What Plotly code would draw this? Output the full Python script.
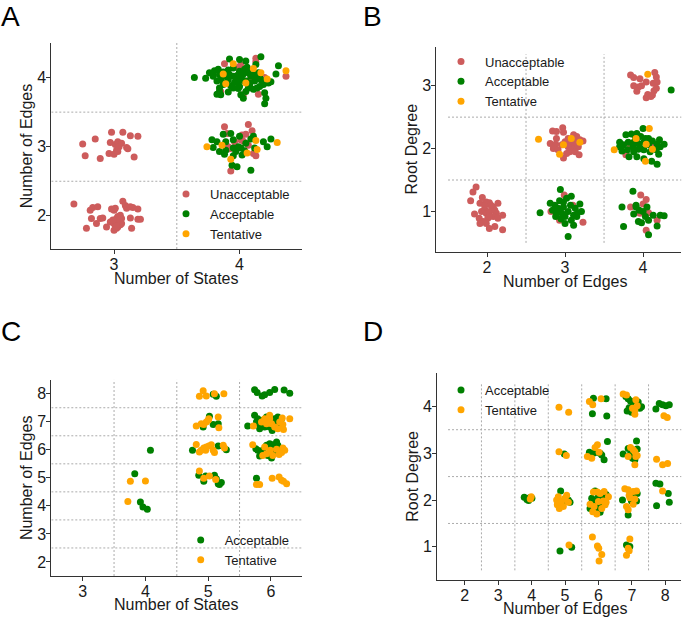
import plotly.graph_objects as go

# ---- data: jittered points, (x, y) per class and panel -------------------------

A_UNACC = [
    (2.68, 2.17), (2.81, 2.08), (2.83, 2.12), (2.87, 2.13), (2.82, 1.96), (2.86, 1.89), (2.78, 1.82),
    (2.89, 1.96), (2.91, 1.97), (2.94, 1.84), (2.98, 2.10), (3.00, 2.08), (3.01, 2.11), (2.97, 1.91),
    (3.00, 1.89), (3.01, 1.86), (3.02, 1.96), (3.03, 1.99), (3.05, 2.01), (3.06, 1.96), (3.02, 1.82),
    (3.00, 1.79), (3.03, 1.84), (3.07, 2.21), (3.09, 2.15), (3.10, 2.11), (3.13, 2.13), (3.15, 2.12),
    (3.19, 2.10), (3.13, 1.97), (3.19, 1.95), (3.21, 1.95), (3.14, 1.82), (3.06, 1.89), (3.05, 1.92),
    (3.03, 1.93), (3.01, 1.90), (3.04, 1.95), (2.99, 1.94), (3.05, 1.87), (3.02, 1.85),
    (2.75, 3.04), (2.77, 2.87), (2.85, 3.11), (2.89, 2.83), (2.98, 3.21), (2.97, 3.06), (2.96, 2.90),
    (3.01, 3.03), (3.02, 2.95), (3.03, 3.07), (3.04, 3.00), (3.07, 3.21), (3.06, 3.05), (3.10, 2.99),
    (3.11, 2.97), (3.13, 3.16), (3.19, 3.15), (3.16, 2.85), (3.00, 2.89), (3.03, 2.93),
    (3.88, 3.29), (4.07, 3.32), (4.10, 3.23), (3.90, 3.19), (4.02, 3.17), (4.05, 3.18), (4.01, 3.10),
    (4.03, 3.08), (3.96, 3.07), (3.91, 3.00), (3.92, 2.97), (4.11, 2.90), (4.13, 2.87), (4.07, 3.02),
    (3.93, 2.65),
    (3.88, 4.20), (4.01, 4.18), (4.13, 4.28), (4.13, 4.23), (4.09, 4.00), (4.08, 3.87), (4.15, 3.76),
    (3.85, 3.80), (4.03, 3.75), (4.37, 4.02), (4.20, 4.00), (4.00, 4.12), (3.99, 4.15),
]
A_ACC = [
    (3.78, 3.10), (3.82, 3.07), (3.87, 3.18), (3.93, 3.19), (3.89, 3.07), (3.95, 3.10), (4.00, 3.15),
    (3.99, 3.00), (3.97, 2.93), (3.95, 2.98), (3.84, 2.93), (3.88, 2.89), (3.95, 2.87), (4.01, 2.98),
    (4.04, 2.94), (4.05, 3.05), (4.09, 3.11), (4.11, 3.15), (4.19, 3.07), (4.22, 3.00), (4.25, 3.11),
    (3.79, 2.99), (3.94, 2.73), (3.98, 2.71), (4.09, 2.66), (3.89, 2.95), (4.02, 2.88), (4.12, 2.98),
    (3.64, 4.00), (3.73, 3.99), (3.76, 4.07), (3.80, 4.10), (3.83, 4.12), (3.84, 4.04), (3.87, 4.08),
    (3.92, 4.27), (4.00, 4.26), (4.05, 4.24), (4.17, 4.30), (4.07, 4.07), (4.01, 4.02), (3.97, 4.00),
    (3.95, 4.02), (3.91, 3.97), (3.89, 3.92), (3.85, 3.97), (3.82, 3.95), (3.84, 3.85), (3.82, 3.76),
    (3.85, 3.75), (3.91, 3.79), (3.95, 3.85), (4.00, 3.87), (4.01, 3.75), (4.05, 3.80), (4.08, 3.90),
    (4.12, 3.95), (4.16, 4.00), (4.15, 4.07), (4.19, 3.90), (4.23, 3.92), (4.25, 3.94), (4.29, 4.05),
    (4.31, 4.17), (4.20, 3.78), (4.21, 3.70), (4.20, 3.62), (4.16, 3.87), (4.11, 3.83), (4.04, 3.95),
    (3.99, 3.92), (3.92, 4.04), (3.88, 4.02), (4.04, 4.12), (4.09, 4.02), (4.13, 4.19), (3.79, 4.02),
    (3.95, 4.14), (4.00, 4.09), (4.07, 3.85), (4.03, 3.70), (4.13, 4.00), (4.17, 3.97), (4.00, 4.00),
    (4.02, 3.97), (3.98, 4.03), (4.05, 3.95), (3.96, 3.93), (4.03, 4.05), (3.93, 3.88), (4.08, 3.92),
    (3.99, 3.84), (4.11, 4.04), (3.87, 3.90), (4.06, 4.15), (3.91, 4.11), (4.14, 3.85), (3.84, 3.80),
]
A_TENT = [
    (3.74, 3.00), (3.86, 3.02), (4.13, 3.09), (4.14, 2.96), (4.06, 2.91), (3.93, 2.82), (4.30, 3.06),
    (3.95, 4.20), (4.11, 4.13), (3.87, 4.05), (4.22, 3.98), (4.37, 4.10), (3.89, 3.91), (4.05, 3.92),
    (4.17, 4.07),
]

B_UNACC = [
    (1.86, 1.39), (1.82, 1.31), (1.79, 1.17), (1.94, 1.22), (1.91, 1.13), (1.99, 1.15), (2.03, 1.14),
    (2.08, 1.07), (2.14, 1.13), (1.84, 0.96), (1.90, 0.89), (1.93, 1.00), (1.97, 1.03), (1.99, 0.97),
    (2.03, 1.00), (2.10, 1.02), (2.12, 0.97), (2.08, 0.92), (2.01, 0.89), (1.95, 0.84), (1.91, 0.81),
    (1.99, 0.81), (2.03, 0.73), (2.10, 0.76), (2.20, 0.71), (2.20, 0.94), (2.14, 0.89), (2.05, 1.10),
    (1.97, 1.09), (2.03, 0.92),
    (2.99, 1.26), (3.10, 1.10), (2.82, 1.00), (2.93, 0.86), (3.23, 0.83),
    (3.97, 1.26), (4.04, 1.19), (3.84, 1.07), (4.00, 1.12), (4.07, 0.98), (4.18, 0.86), (4.04, 0.70),
    (3.96, 0.97),
    (2.84, 2.28), (2.89, 2.27), (2.97, 2.33), (2.98, 2.26), (2.81, 2.08), (2.88, 2.07), (2.85, 2.00),
    (2.91, 1.98), (2.96, 2.06), (3.00, 2.11), (3.04, 2.16), (3.08, 2.08), (3.11, 2.01), (3.06, 1.95),
    (3.02, 1.92), (3.15, 2.19), (3.19, 2.14), (3.17, 2.03), (3.13, 1.95), (3.14, 2.10), (3.23, 2.12),
    (3.18, 1.90), (2.98, 1.85), (3.04, 2.03), (2.89, 2.16), (3.11, 2.22),
    (4.10, 2.06), (3.78, 1.90), (4.15, 2.03), (3.83, 2.06),
    (3.84, 3.17), (3.88, 3.13), (3.96, 3.11), (4.04, 3.06), (3.98, 3.00), (4.15, 3.21), (4.17, 3.14),
    (4.13, 3.04), (4.18, 3.06), (3.94, 2.98), (3.88, 3.00), (4.17, 2.96), (4.14, 2.92), (4.06, 2.86),
    (4.04, 2.81), (4.10, 2.83), (4.12, 2.85), (3.92, 2.91),
]
B_ACC = [
    (2.94, 1.35), (2.68, 0.98), (2.81, 1.13), (2.87, 1.10), (2.84, 1.02), (2.89, 0.97), (2.93, 1.17),
    (2.98, 1.15), (3.02, 1.21), (3.08, 1.24), (3.07, 1.10), (3.13, 1.05), (3.19, 1.12), (3.21, 1.00),
    (3.15, 0.92), (3.08, 0.86), (3.00, 0.92), (2.95, 0.88), (3.04, 1.00), (2.98, 1.07), (2.91, 1.05),
    (3.11, 0.78), (3.04, 0.60), (2.88, 0.92), (3.16, 0.98), (2.96, 0.97), (3.00, 0.81), (3.11, 0.94),
    (3.87, 1.32), (3.73, 1.07), (3.91, 1.10), (3.95, 1.02), (3.88, 0.96), (4.00, 1.00), (4.05, 1.07),
    (4.13, 0.94), (4.22, 0.94), (4.27, 0.93), (3.94, 0.84), (3.98, 0.82), (4.07, 0.86), (4.03, 0.92),
    (3.75, 0.76), (4.07, 0.63), (4.18, 0.77), (3.91, 1.07),
    (4.00, 2.32), (3.78, 2.22), (3.85, 2.23), (3.92, 2.24), (3.97, 2.19), (4.03, 2.16), (3.70, 2.10),
    (3.75, 2.06), (3.81, 2.10), (3.88, 2.10), (3.94, 2.08), (4.01, 2.10), (4.07, 2.16), (4.12, 2.12),
    (4.18, 2.07), (4.22, 2.03), (4.27, 2.07), (3.73, 1.96), (3.80, 1.98), (3.88, 1.95), (3.94, 1.99),
    (4.01, 1.98), (4.09, 1.95), (4.17, 1.98), (4.20, 1.91), (3.82, 1.87), (3.92, 1.87), (4.01, 1.84),
    (4.11, 1.80), (4.18, 1.75), (3.90, 2.19), (3.96, 2.01), (3.87, 2.03), (4.07, 2.06), (4.21, 2.14),
    (3.70, 2.03),
    (4.36, 2.93),
]
B_TENT = [
    (2.66, 2.15), (2.98, 2.06), (3.08, 2.16), (3.19, 2.10), (2.93, 1.91),
    (3.63, 1.98), (4.08, 2.32), (3.91, 2.16), (4.04, 2.07), (4.03, 1.80), (4.12, 1.99),
    (4.06, 3.18),
]

C_ACC = [
    (3.83, 5.15), (3.92, 4.14), (3.96, 3.96), (4.03, 3.88), (4.08, 5.98),
    (5.08, 7.98), (5.13, 7.91),
    (5.74, 8.14), (5.78, 8.04), (5.86, 7.92), (5.90, 7.96), (5.98, 8.04), (6.06, 8.15), (6.21, 8.13),
    (6.30, 8.02),
    (5.02, 7.20), (5.08, 6.90), (5.16, 6.93), (4.92, 6.81),
    (5.63, 6.85), (5.74, 7.23), (5.79, 7.11), (5.81, 6.93), (5.87, 7.05), (5.93, 7.17), (5.95, 6.93),
    (5.98, 6.81), (6.03, 6.99), (6.06, 7.11), (6.11, 7.17), (6.17, 7.11), (5.82, 6.75), (5.90, 6.81),
    (6.02, 6.69), (6.09, 6.87), (5.77, 6.99),
    (4.75, 5.98), (5.16, 6.14), (5.29, 6.00),
    (5.76, 6.04), (5.79, 5.98), (5.87, 5.98), (5.93, 6.16), (5.98, 6.22), (6.03, 6.18), (6.09, 6.28),
    (6.11, 6.16), (5.82, 5.78), (5.95, 5.80), (6.01, 5.71), (5.85, 5.90), (6.06, 5.92), (6.14, 6.04),
    (4.85, 5.09), (4.93, 4.88), (4.96, 5.07), (5.10, 5.09), (5.13, 4.97), (5.16, 4.79), (5.18, 4.76),
    (5.21, 4.83),
    (5.77, 4.99),
]
C_TENT = [
    (3.76, 4.88), (4.00, 4.89), (3.72, 4.16),
    (4.86, 7.91), (4.92, 8.11), (4.97, 7.92), (5.10, 8.00), (5.25, 8.00),
    (4.81, 6.85), (4.89, 6.93), (4.93, 6.90), (4.97, 6.99), (5.00, 7.05), (5.16, 7.17), (5.01, 7.11),
    (5.17, 6.79),
    (5.72, 6.85), (5.85, 6.99), (5.90, 7.11), (5.98, 7.11), (6.01, 6.93), (6.06, 6.81), (6.14, 6.99),
    (6.18, 7.13), (6.19, 6.90), (6.20, 6.72), (6.30, 7.11), (5.93, 6.93), (6.11, 6.75), (5.98, 7.23),
    (4.81, 6.19), (4.86, 5.92), (4.89, 5.98), (4.93, 6.06), (4.97, 6.10), (5.01, 6.14), (5.05, 6.18),
    (5.08, 5.98), (5.10, 5.90), (4.96, 5.98), (5.24, 6.16), (5.26, 6.06),
    (5.71, 6.18), (5.90, 6.10), (5.93, 5.86), (5.99, 5.98), (6.03, 5.80), (6.09, 6.02), (6.13, 5.83),
    (6.19, 6.06), (6.22, 5.98), (5.87, 5.80), (6.17, 5.90),
    (4.86, 5.24), (4.93, 4.99), (5.02, 5.07), (5.12, 4.94),
    (5.77, 4.76), (5.82, 4.76), (6.02, 4.99), (6.13, 5.03), (6.17, 4.91), (6.20, 4.88), (6.25, 4.79),
]

D_ACC = [
    (3.78, 2.06), (3.86, 2.01), (3.94, 2.05), (4.01, 2.04), (3.91, 1.99),
    (4.98, 2.98),
    (4.87, 2.19), (5.03, 1.98), (5.10, 2.00), (5.15, 1.95), (4.93, 1.91),
    (5.90, 2.19), (5.80, 2.04), (5.77, 1.90), (5.87, 1.98), (6.00, 2.07), (6.05, 1.91), (6.10, 1.86),
    (5.97, 1.79), (6.05, 1.74), (5.90, 1.82), (6.15, 2.11), (6.23, 2.12), (5.75, 1.82),
    (6.72, 2.00), (6.89, 1.68), (6.99, 1.98), (7.16, 2.14), (7.14, 1.98), (7.06, 2.07),
    (7.72, 2.36), (7.84, 2.34), (8.09, 2.14), (7.74, 1.88), (8.12, 1.95),
    (4.85, 0.91), (5.20, 0.99),
    (6.84, 1.04), (6.94, 1.01),
    (5.85, 4.17), (6.23, 4.16), (5.82, 3.84), (6.25, 3.79),
    (6.82, 4.21), (6.89, 4.16), (6.96, 4.11), (7.04, 4.01), (6.92, 3.97), (6.86, 3.90), (6.99, 3.87),
    (7.19, 4.09), (7.29, 3.99), (7.24, 3.96),
    (7.72, 3.94), (7.82, 4.06), (7.92, 4.03), (8.02, 4.01), (8.12, 4.03),
    (5.73, 3.02), (5.85, 3.00), (5.95, 3.02), (6.05, 3.00), (6.10, 2.96), (6.17, 2.86), (6.27, 3.25),
    (6.74, 2.98), (6.89, 3.10), (6.94, 2.96), (7.02, 2.89), (7.09, 2.86), (7.14, 3.26), (7.16, 3.09),
    (6.99, 3.02),
]
D_TENT = [
    (3.99, 2.07), (3.96, 2.02),
    (4.82, 3.98), (5.11, 3.87),
    (4.82, 3.03), (5.04, 2.95),
    (4.75, 2.00), (4.80, 2.07), (4.85, 1.93), (4.77, 1.90), (4.90, 1.98), (5.00, 2.04), (5.05, 2.10),
    (4.95, 1.86), (4.83, 1.82), (5.10, 1.95),
    (5.85, 2.17), (5.97, 2.17), (6.17, 2.18), (6.30, 2.07), (5.75, 1.91), (5.87, 1.86), (6.00, 1.97),
    (6.15, 1.98), (6.20, 1.90), (5.83, 1.75), (5.95, 1.70), (6.10, 1.82), (6.23, 1.95), (6.05, 2.14),
    (6.79, 2.24), (6.89, 2.22), (6.94, 2.05), (7.04, 2.18), (7.14, 2.19), (6.84, 1.86), (6.89, 1.79),
    (7.04, 1.91), (6.92, 2.10), (7.09, 2.02),
    (7.92, 2.19),
    (5.12, 1.04),
    (5.82, 1.21), (5.97, 1.02), (6.01, 0.97), (6.10, 0.84), (6.02, 0.70),
    (6.94, 1.17), (6.89, 0.97), (6.92, 0.92), (6.84, 0.82),
    (5.73, 4.10), (5.83, 4.03), (6.08, 4.16),
    (6.74, 4.26), (6.84, 4.24), (7.12, 4.14), (7.16, 4.01), (7.09, 3.92), (7.02, 3.96), (7.09, 3.83),
    (7.96, 3.80), (8.06, 3.76),
    (5.67, 2.93), (5.80, 2.89), (5.90, 3.12), (5.97, 3.18), (6.02, 3.02),
    (6.96, 3.12), (7.04, 3.07), (7.09, 3.03), (7.12, 2.93), (7.16, 2.95), (7.09, 2.75), (6.89, 2.93),
    (7.74, 2.87), (7.92, 2.75), (8.07, 2.78),
]

# separator lines between integer cells
A_VLINES, A_HLINES = [3.5], [2.5, 3.5]
B_VLINES, B_HLINES = [2.5, 3.5], [1.5, 2.5]
C_VLINES, C_HLINES = [3.5, 4.5, 5.5], [2.5, 3.5, 4.5, 5.5, 6.5, 7.5]
D_VLINES, D_HLINES = [2.5, 3.5, 4.5, 5.5, 6.5, 7.5], [1.5, 2.5, 3.5]

COLORS = {"Unacceptable": "#CD5C5C", "Acceptable": "#008000", "Tentative": "#FFA500"}
FONT = "Liberation Sans, Arial, sans-serif"
INK = "#1a1a1a"
AXIS_COLOR = "#333333"
SEP_COLOR = "#ababab"

W, H = 694, 618


def px_x(p):
    return p / W


def px_y(p):
    return 1 - p / H


PANELS = [
    dict(letter="A", n="", series=[("Unacceptable", A_UNACC), ("Acceptable", A_ACC), ("Tentative", A_TENT)],
         xdom=(51.3, 302.3), ydom=(43, 249), xr=[2.5, 4.5], yr=[1.52, 4.5],
         xt=[3, 4], yt=[2, 3, 4], xtitle="Number of States", ytitle="Number of Edges",
         vl=A_VLINES, hl=A_HLINES, vspan=(1.52, 4.5), hspan=(2.5, 4.5),
         leg=(162, 179), lab=(0, 0), xtpos=(177, 278)),
    dict(letter="B", n="2", series=[("Unacceptable", B_UNACC), ("Acceptable", B_ACC), ("Tentative", B_TENT)],
         xdom=(436.3, 681.3), ydom=(46.7, 251.7), xr=[1.35, 4.49], yr=[0.36, 3.62],
         xt=[2, 3, 4], yt=[1, 2, 3], xtitle="Number of Edges", ytitle="Root Degree",
         vl=B_VLINES, hl=B_HLINES, vspan=(0.5, 3.5), hspan=(1.5, 4.5),
         leg=(437, 46.5), lab=(361.5, 0), xtpos=(565, 281)),
    dict(letter="C", n="3", series=[("Acceptable", C_ACC), ("Tentative", C_TENT)],
         xdom=(51.3, 302.3), ydom=(379.7, 576), xr=[2.5, 6.5], yr=[1.5, 8.5],
         xt=[3, 4, 5, 6], yt=[2, 3, 4, 5, 6, 7, 8], xtitle="Number of States", ytitle="Number of Edges",
         vl=C_VLINES, hl=C_HLINES, vspan=(1.5, 8.5), hspan=(2.5, 6.5),
         leg=(176.7, 525), lab=(0, 315), xtpos=(177, 604.5)),
    dict(letter="D", n="4", series=[("Acceptable", D_ACC), ("Tentative", D_TENT)],
         xdom=(437, 681.3), ydom=(373, 579.7), xr=[1.17, 8.48], yr=[0.30, 4.71],
         xt=[2, 3, 4, 5, 6, 7, 8], yt=[1, 2, 3, 4], xtitle="Number of Edges", ytitle="Root Degree",
         vl=D_VLINES, hl=D_HLINES, vspan=(0.5, 4.5), hspan=(1.5, 8.5),
         leg=(437, 375), lab=(361.5, 315), xtpos=(565, 608)),
]

fig = go.Figure()
shapes, annotations, layout = [], [], {}
title_font = dict(size=16, color=INK, family=FONT)

for p in PANELS:
    n = p["n"]
    xref, yref = "x" + n, "y" + n
    legend_name = "legend" + n
    for name, pts in p["series"]:
        xs, ys = zip(*pts)
        fig.add_trace(go.Scatter(
            x=xs, y=ys, mode="markers", name=name,
            marker=dict(size=7, color=COLORS[name], line=dict(width=0)),
            xaxis=xref, yaxis=yref, legend=legend_name,
        ))
    for v in p["vl"]:
        shapes.append(dict(type="line", xref=xref, yref=yref, x0=v, x1=v, y0=p["vspan"][0], y1=p["vspan"][1],
                           line=dict(color=SEP_COLOR, width=1, dash="2px,2px"), layer="below"))
    for h in p["hl"]:
        shapes.append(dict(type="line", xref=xref, yref=yref, x0=p["hspan"][0], x1=p["hspan"][1], y0=h, y1=h,
                           line=dict(color=SEP_COLOR, width=1, dash="2px,2px"), layer="below"))

    common = dict(showline=True, linecolor=AXIS_COLOR, linewidth=1, ticks="outside", ticklen=4,
                  tickcolor=AXIS_COLOR, tickwidth=1, showgrid=False, zeroline=False, automargin=False,
                  ticklabelstandoff=-3, tickfont=dict(size=16, color=INK, family=FONT))
    layout["xaxis" + n] = dict(common, domain=[px_x(p["xdom"][0]), px_x(p["xdom"][1])], range=p["xr"],
                               tickvals=p["xt"], anchor=yref)
    layout["yaxis" + n] = dict(common, domain=[px_y(p["ydom"][1]), px_y(p["ydom"][0])], range=p["yr"],
                               tickvals=p["yt"], anchor=xref,
                               title=dict(text=p["ytitle"], font=title_font, standoff=0))
    layout[legend_name] = dict(x=px_x(p["leg"][0]), y=px_y(p["leg"][1]), xanchor="left", yanchor="top",
                               bgcolor="rgba(0,0,0,0)", borderwidth=0, itemwidth=38, tracegroupgap=0,
                               font=dict(size=13, color=INK, family=FONT))
    # x-axis title placed as paper text so it sits tight under the tick labels
    annotations.append(dict(text=p["xtitle"], xref="paper", yref="paper", x=px_x(p["xtpos"][0]),
                            y=px_y(p["xtpos"][1]), xanchor="center", yanchor="middle", showarrow=False,
                            font=title_font))
    annotations.append(dict(text=p["letter"], xref="paper", yref="paper", x=px_x(p["lab"][0]),
                            y=px_y(p["lab"][1]), xanchor="left", yanchor="top", showarrow=False,
                            borderpad=0, font=dict(size=28, color="#000000", family=FONT)))

fig.update_layout(
    template="none",
    width=W, height=H,
    margin=dict(l=0, r=0, t=0, b=0),
    paper_bgcolor="white", plot_bgcolor="white",
    font=dict(family=FONT, color=INK),
    showlegend=True,
    shapes=shapes, annotations=annotations,
    **layout,
)

# the page's default body margin would push the 694x618 figure off the window
fig.write_html("out.html", config={"displayModeBar": False},
               post_script="document.body.style.margin = '0';")
